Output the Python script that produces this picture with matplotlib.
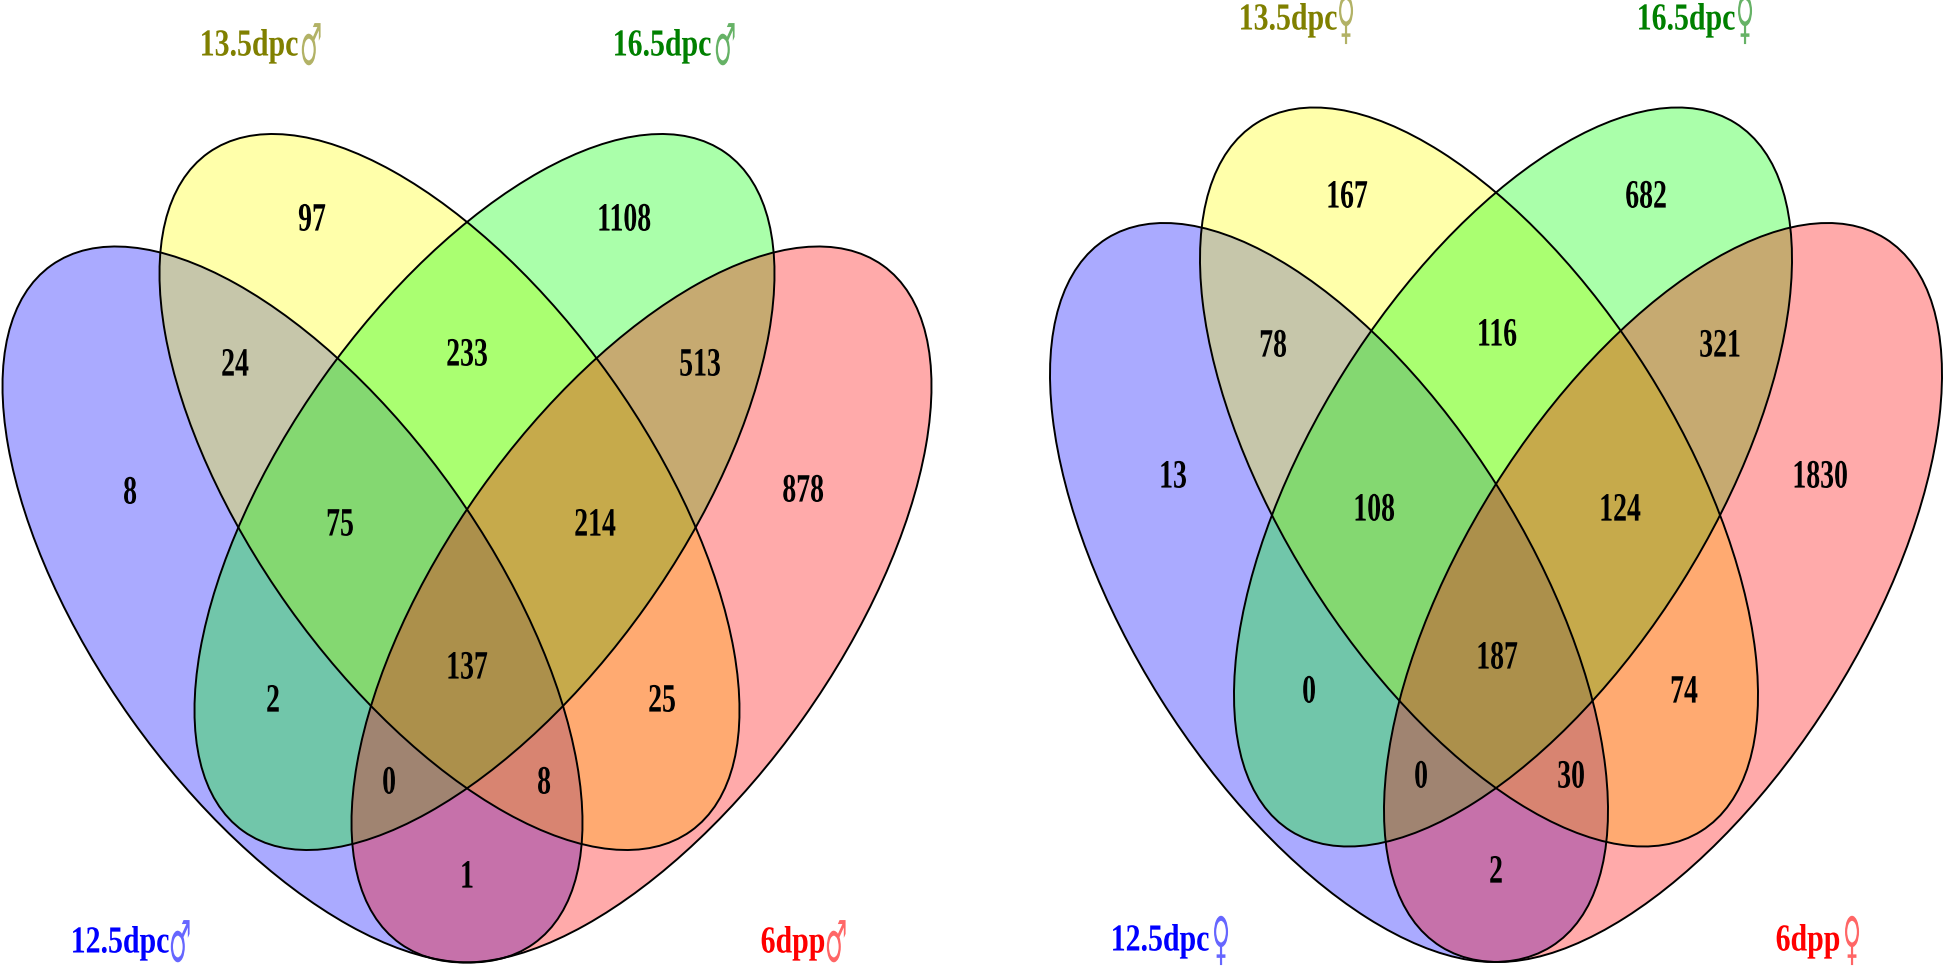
"""Two four-set Venn diagrams (male / female stages), drawn in image pixel coords."""

import math

import matplotlib
matplotlib.use("Agg")
import matplotlib.patheffects as pe
import matplotlib.pyplot as plt
from matplotlib.patches import Ellipse
from matplotlib.transforms import Affine2D

SET_COLORS = ["#0000ff", "#ffff00", "#00ff00", "#ff0000"]
LABEL_COLORS = ["#0000ff", "#808000", "#008000", "#ff0000"]
STAGES = ["12.5dpc", "13.5dpc", "16.5dpc", "6dpp"]

# region counts, same region order in both diagrams
MALE_COUNTS = ["8", "97", "1108", "878", "24", "233", "513", "75", "214",
               "2", "137", "25", "0", "8", "1"]
FEMALE_COUNTS = ["13", "167", "682", "1830", "78", "116", "321", "108", "124",
                 "0", "187", "74", "0", "30", "2"]

MALE_X = [130, 312, 624, 803, 235, 467, 700, 340, 595, 273, 467, 662, 389, 544, 467]
MALE_Y = [493, 220, 220, 491, 365, 355, 365, 525, 525, 701, 668, 701, 783, 783, 877]
FEMALE_X = [1173, 1347, 1646, 1820, 1273, 1497, 1720, 1374, 1620, 1309, 1497, 1684, 1421, 1571, 1496]
FEMALE_Y = [477, 197, 197, 477, 346, 335, 346, 510, 510, 692, 658, 692, 777, 777, 872]

# ellipse centres and half extents: blue, yellow, green, red
MALE_CX = [292.5, 449.5, 484.5, 641.5]
MALE_CY = [604.5, 492, 492, 604.5]
MALE_EXT = (290, 358, 0.61)
FEMALE_CX = [1329, 1479, 1513, 1663]
FEMALE_CY = [592.5, 477, 477, 592.5]
FEMALE_EXT = (279, 369.5, 0.59)

# stage label centres: name x, symbol x, y
MALE_NAME_X = [120, 249, 662, 793]
MALE_SYM_X = [180, 311, 725, 836]
MALE_LABEL_Y = [943, 46, 46, 943]
FEMALE_NAME_X = [1160, 1288, 1686, 1808]
FEMALE_SYM_X = [1221, 1346, 1745, 1852]
FEMALE_LABEL_Y = [941, 20, 20, 941]


class TallText(pe.AbstractPathEffect):
    """The source picture is squashed sideways, so small glyphs get stretched up."""

    def __init__(self, sy):
        super().__init__()
        self.sy = sy

    def draw_path(self, renderer, gc, tpath, affine, rgbFace=None):
        ext = tpath.get_extents()
        mid = 0.5 * (ext.y0 + ext.y1)
        stretch = Affine2D().translate(0, -mid).scale(1, self.sy).translate(0, mid)
        renderer.draw_path(gc, tpath, stretch + affine, rgbFace)


def ellipse_params(half_w, half_h, rho):
    """Full axes and angle of an ellipse from its bounding box and tilt."""
    a, d, b = half_w ** 2, half_h ** 2, rho * half_w * half_h
    mean, diff = (a + d) / 2, (a - d) / 2
    r = math.hypot(diff, b)
    return 2 * math.sqrt(mean + r), 2 * math.sqrt(mean - r), 0.5 * math.degrees(math.atan2(b, diff))


def draw_venn(ax, cxs, cys, ext, counts, xs, ys, name_xs, sym_xs, label_ys, symbol):
    half_w, half_h, rho = ext
    width, height, angle = ellipse_params(half_w, half_h, rho)
    angles = [angle, angle, -angle, -angle]
    for cx, cy, ang, color in zip(cxs, cys, angles, SET_COLORS):
        ax.add_patch(Ellipse((cx, cy), width, height, angle=ang, facecolor=color,
                             alpha=1 / 3, edgecolor="none"))
    for cx, cy, ang in zip(cxs, cys, angles):
        ax.add_patch(Ellipse((cx, cy), width, height, angle=ang, fill=False,
                             edgecolor="black", linewidth=1.4))

    for x, y, s in zip(xs, ys, counts):
        ax.text(x, y, s, ha="center", va="center", fontsize=20, fontweight="bold",
                family="Liberation Serif", color="black", path_effects=[TallText(1.45)])

    for stage, nx, sx, y, color in zip(STAGES, name_xs, sym_xs, label_ys, LABEL_COLORS):
        ax.text(nx, y, stage, ha="center", va="center", fontsize=21.5, fontweight="bold",
                family="Liberation Serif", color=color, path_effects=[TallText(1.28)])
        ax.text(sx, y, symbol, ha="center", va="center", fontsize=18,
                family="DejaVu Sans", color=color, alpha=0.6, path_effects=[TallText(2.3)])


fig = plt.figure(figsize=(19.46, 9.67), dpi=100)
ax = fig.add_axes([0, 0, 1, 1])
ax.set_xlim(0, 1946)
ax.set_ylim(967, 0)
ax.axis("off")

draw_venn(ax, MALE_CX, MALE_CY, MALE_EXT, MALE_COUNTS, MALE_X, MALE_Y,
          MALE_NAME_X, MALE_SYM_X, MALE_LABEL_Y, "\u2642")
draw_venn(ax, FEMALE_CX, FEMALE_CY, FEMALE_EXT, FEMALE_COUNTS, FEMALE_X, FEMALE_Y,
          FEMALE_NAME_X, FEMALE_SYM_X, FEMALE_LABEL_Y, "\u2640")

fig.savefig("out.png", dpi=100)
